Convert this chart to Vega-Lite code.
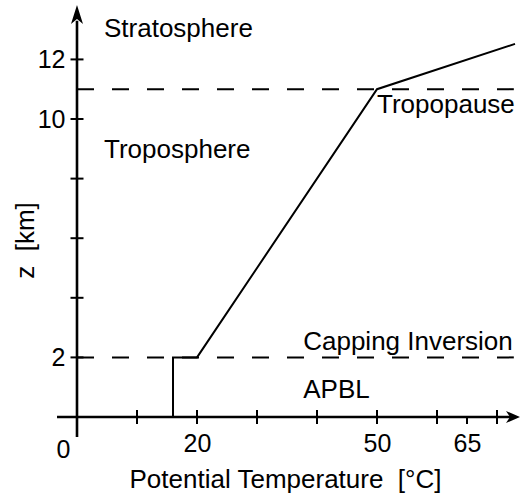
{
  "$schema": "https://vega.github.io/schema/vega-lite/v6.json",
  "autosize": {"type": "none"},
  "width": 463,
  "height": 432,
  "padding": {"left": 57, "top": 5, "right": 1, "bottom": 58},
  "background": "white",
  "config": {"view": {"stroke": null}, "font": "Liberation Sans"},
  "datasets": {
    "profile": [
      {"theta": 16, "z": 0},
      {"theta": 16, "z": 2},
      {"theta": 20, "z": 2},
      {"theta": 50, "z": 11},
      {"theta": 73, "z": 12.52}
    ],
    "levels": [
      {"name": "Capping Inversion", "z": 2, "from": 0, "to": 72.8},
      {"name": "Tropopause", "z": 11, "from": 0, "to": 72.8}
    ],
    "xaxisline": [{"from": -3.33, "to": 73, "z": 0}],
    "yaxisline": [{"from": -0.671, "to": 13.3, "theta": 0}],
    "xarrow": [{"theta": 73.83, "z": 0}],
    "yarrow": [{"theta": 0, "z": 13.826}],
    "xticks": [{"theta": 10, "z": 0}, {"theta": 20, "z": 0}, {"theta": 30, "z": 0}, {"theta": 40, "z": 0}, {"theta": 50, "z": 0}, {"theta": 60, "z": 0}, {"theta": 70, "z": 0}],
    "xminor": [{"theta": 65, "z": 0}],
    "yticks": [{"theta": 0, "z": 2}, {"theta": 0, "z": 4}, {"theta": 0, "z": 6}, {"theta": 0, "z": 8}, {"theta": 0, "z": 10}, {"theta": 0, "z": 12}],
    "labels": [
      {"text": "Stratosphere", "theta": 4.5, "z": 12.75},
      {"text": "Troposphere", "theta": 4.5, "z": 8.69},
      {"text": "Tropopause", "theta": 50, "z": 10.2},
      {"text": "Capping Inversion", "theta": 37.7, "z": 2.25},
      {"text": "APBL", "theta": 37.7, "z": 0.64}
    ]
  },
  "encoding": {
    "x": {
      "type": "quantitative",
      "scale": {"domain": [-3.333, 73.83], "nice": false, "zero": false},
      "axis": {
        "title": "Potential Temperature \u00a0[°C]",
        "values": [0, 20, 50, 65],
        "domain": false, "ticks": false, "tickSize": 0, "grid": false,
        "offset": -20,
        "labelFontSize": 25, "labelColor": "black", "labelFont": "Liberation Sans",
        "labelPadding": {"condition": {"test": "datum.value == 0", "value": 20}, "value": 14},
        "labelOffset": {"condition": {"test": "datum.value == 0", "value": -14}, "value": 0},
        "labelFlush": false, "labelOverlap": false,
        "titleFontSize": 26, "titleFontWeight": "normal", "titleColor": "black", "titleFont": "Liberation Sans",
        "titleX": 228, "titleY": 70, "titleBaseline": "alphabetic", "titleAnchor": "middle", "titleAlign": "center"
      }
    },
    "y": {
      "type": "quantitative",
      "scale": {"domain": [-0.671, 13.826], "nice": false, "zero": false},
      "axis": {
        "title": "z \u00a0[km]",
        "values": [2, 10, 12],
        "domain": false, "ticks": false, "tickSize": 0, "grid": false,
        "offset": -20,
        "labelFontSize": 25, "labelColor": "black", "labelFont": "Liberation Sans",
        "labelPadding": 12, "labelFlush": false, "labelOverlap": false,
        "titleFontSize": 26, "titleFontWeight": "normal", "titleColor": "black", "titleFont": "Liberation Sans",
        "titleX": -44, "titleY": 235, "titleBaseline": "alphabetic", "titleAngle": -90, "titleAlign": "center"
      }
    }
  },
  "layer": [
    {
      "data": {"name": "levels"},
      "mark": {"type": "rule", "color": "black", "strokeWidth": 2, "strokeDash": [17, 18]},
      "encoding": {"x": {"field": "from"}, "x2": {"field": "to"}, "y": {"field": "z"}}
    },
    {
      "data": {"name": "xaxisline"},
      "mark": {"type": "rule", "color": "black", "strokeWidth": 2.6},
      "encoding": {"x": {"field": "from"}, "x2": {"field": "to"}, "y": {"field": "z"}}
    },
    {
      "data": {"name": "yaxisline"},
      "mark": {"type": "rule", "color": "black", "strokeWidth": 2.6},
      "encoding": {"y": {"field": "from"}, "y2": {"field": "to"}, "x": {"field": "theta"}}
    },
    {
      "data": {"name": "xticks"},
      "mark": {"type": "tick", "orient": "vertical", "color": "black", "size": 14, "thickness": 2, "opacity": 1},
      "encoding": {"x": {"field": "theta"}, "y": {"field": "z"}}
    },
    {
      "data": {"name": "xminor"},
      "mark": {"type": "tick", "orient": "vertical", "color": "black", "size": 7, "thickness": 2, "yOffset": 3.5, "opacity": 1},
      "encoding": {"x": {"field": "theta"}, "y": {"field": "z"}}
    },
    {
      "data": {"name": "yticks"},
      "mark": {"type": "tick", "orient": "horizontal", "color": "black", "size": 13, "thickness": 2, "opacity": 1},
      "encoding": {"x": {"field": "theta"}, "y": {"field": "z"}}
    },
    {
      "data": {"name": "xarrow"},
      "mark": {"type": "point", "shape": "M0,0 L-14,-6 L-10,0 L-14,6 Z", "size": 4, "filled": true, "color": "black", "opacity": 1, "strokeWidth": 0},
      "encoding": {"x": {"field": "theta"}, "y": {"field": "z"}}
    },
    {
      "data": {"name": "yarrow"},
      "mark": {"type": "point", "shape": "M0,0 L6,19 L0,14 L-6,19 Z", "size": 4, "filled": true, "color": "black", "opacity": 1, "strokeWidth": 0},
      "encoding": {"x": {"field": "theta"}, "y": {"field": "z"}}
    },
    {
      "data": {"name": "profile"},
      "mark": {"type": "line", "color": "black", "strokeWidth": 2},
      "encoding": {"x": {"field": "theta"}, "y": {"field": "z"}, "order": {"value": 0}}
    },
    {
      "data": {"name": "labels"},
      "mark": {"type": "text", "align": "left", "baseline": "alphabetic", "fontSize": 26, "font": "Liberation Sans", "color": "black"},
      "encoding": {"x": {"field": "theta"}, "y": {"field": "z"}, "text": {"field": "text"}}
    }
  ]
}
